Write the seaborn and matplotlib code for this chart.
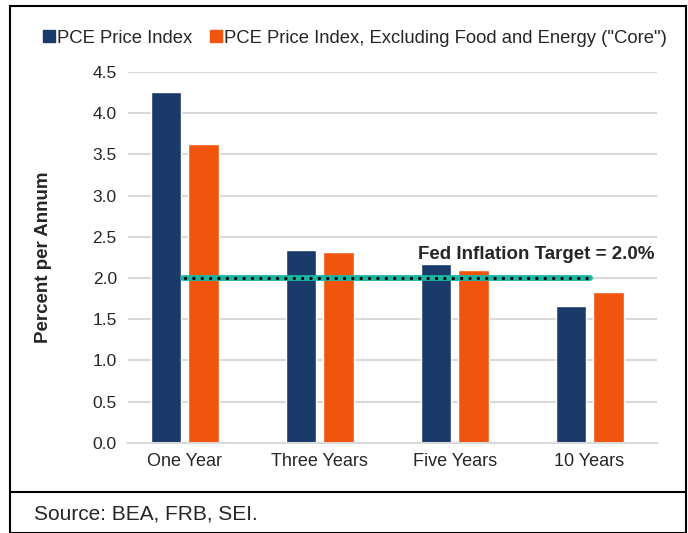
import matplotlib
matplotlib.use("Agg")
import matplotlib.pyplot as plt
import pandas as pd
import seaborn as sns
from matplotlib.lines import Line2D

periods = ["One Year", "Three Years", "Five Years", "10 Years"]
series_names = ["PCE Price Index", 'PCE Price Index, Excluding Food and Energy ("Core")']
pce = [4.26, 2.34, 2.17, 1.66]
core = [3.62, 2.32, 2.10, 1.83]
target = 2.0
y_ticks = [0.0, 0.5, 1.0, 1.5, 2.0, 2.5, 3.0, 3.5, 4.0, 4.5]

NAVY = "#1A3A6A"
ORANGE = "#F0540D"
TEAL = "#1BB5A4"

df = pd.DataFrame({
    "period": periods * 2,
    "series": [series_names[0]] * len(periods) + [series_names[1]] * len(periods),
    "value": pce + core,
})

sns.set_style("white")
plt.rcParams["font.family"] = ["Liberation Sans", "DejaVu Sans"]

fig = plt.figure(figsize=(6.88, 5.33), dpi=100)
ax = fig.add_axes([0.186, 0.169, 0.769, 0.696])

sns.barplot(data=df, x="period", y="value", hue="series", order=periods,
            hue_order=series_names, palette=[NAVY, ORANGE], width=0.56, gap=0.2,
            ax=ax, legend=False, saturation=1)

ax.set_ylim(0, 4.5)
ax.set_xlim(-0.42, 3.5)
ax.set_yticks(y_ticks)
ax.set_yticklabels([f"{t:.1f}" for t in y_ticks], fontsize=12.5)
ax.tick_params(axis="x", labelsize=13, length=0, pad=7)
ax.tick_params(axis="y", length=0, pad=8)
ax.grid(axis="y", color="#D9D9D9", linewidth=1.5)
ax.set_axisbelow(True)
for s in ["top", "right", "left"]:
    ax.spines[s].set_visible(False)
ax.spines["bottom"].set_color("#D9D9D9")
ax.spines["bottom"].set_linewidth(1.5)
ax.set_xlabel("")
ax.set_ylabel("Percent per Annum", fontsize=13.5, fontweight="bold", labelpad=29)

# fed target line: thick teal with black dots
ax.plot([-0.01, 3.0], [target, target], color=TEAL, linewidth=4.2,
        solid_capstyle="round", zorder=3)
ax.plot([0.0, 2.98], [target, target], color="black", linewidth=2.4,
        linestyle=(0, (0.01, 2.5)), dash_capstyle="round", zorder=4)
ax.text(3.48, 2.18, "Fed Inflation Target = 2.0%", ha="right", va="bottom",
        fontsize=13.5, fontweight="bold")

handles = [Line2D([], [], marker="s", linestyle="", markersize=9, color=c) for c in [NAVY, ORANGE]]
fig.legend(handles, series_names, loc="center left", bbox_to_anchor=(0.035, 0.928),
           ncol=2, frameon=False, fontsize=13.3, handletextpad=0.0, columnspacing=0.8,
           handlelength=0.9)

# outer border and source box
fig.add_artist(plt.Rectangle((0.015, 0.0), 0.982, 0.988, transform=fig.transFigure,
                             fill=False, edgecolor="black", linewidth=1.5))
fig.add_artist(Line2D([0.015, 0.997], [0.077, 0.077], transform=fig.transFigure,
                      color="black", linewidth=1.5))
fig.text(0.05, 0.018, "Source: BEA, FRB, SEI.", fontsize=15, va="bottom")

fig.savefig("out.png", dpi=100)
